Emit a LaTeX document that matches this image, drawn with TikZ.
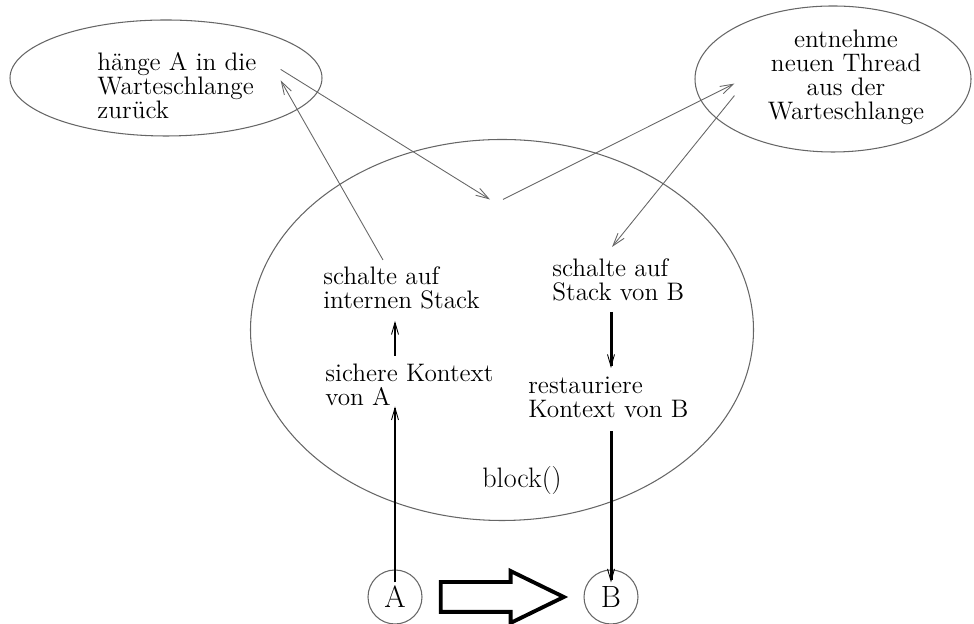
\documentclass[tikz,border=0pt]{standalone}
\usepackage{tikz}
\usetikzlibrary{arrows.meta,calc,shapes.geometric,shapes.arrows}
\definecolor{penGray}{HTML}{666666}

\begin{document}
\begin{tikzpicture}[
  every node/.style={font=\fontsize{14.4}{13.6}\selectfont},
  txt/.style={inner sep=0pt, align=left, anchor=north west},
  queue/.style={draw=penGray, line width=0.6pt, ellipse, inner sep=0pt},
  thread/.style={draw=penGray, line width=0.6pt, circle, minimum size=1.08cm, inner sep=0pt,
                 font=\fontsize{17.5}{18}\selectfont},
  thinarrow/.style={draw=penGray, line width=0.5pt, -{Straight Barb[length=2.6mm,width=1.6mm]}},
  flow/.style={line width=1.7pt, -{Straight Barb[length=2.4mm,width=1.4mm,line width=0.5pt]}}
]
  \useasboundingbox (0,0) rectangle (19.48,12.48);

  % Ellipsen
  \node[queue, minimum width=6.24cm, minimum height=2.32cm] (qleft) at (3.32,10.92) {};
  \node[queue, minimum width=5.52cm, minimum height=2.92cm] (qright) at (16.66,10.90) {};
  \node[queue, minimum width=10.06cm, minimum height=7.62cm] (blk) at (10.04,5.88) {};

  % Texte
  \node[txt] (hang) at (1.94,11.44) {hänge A in die\\Warteschlange\\zurück};
  \node[inner sep=0pt, align=center, anchor=north] (take) at (16.92,11.88) {entnehme\\neuen Thread\\aus der\\Warteschlange};
  \node[txt] (internA) at (6.46,7.16) {schalte auf\\internen Stack};
  \node[txt] (saveA) at (6.50,5.20) {sichere Kontext\\von A};
  \node[txt] (stackB) at (11.04,7.32) {schalte auf\\Stack von B};
  \node[txt] (restB) at (10.56,4.94) {restauriere\\Kontext von B};
  \node[inner sep=0pt, anchor=base, font=\fontsize{16}{18}\selectfont] (blockcall) at (10.44,2.72) {block()};

  % Threads
  \node[thread] (A) at (7.90,0.54) {A};
  \node[thread] (B) at (12.22,0.54) {B};
  \node[single arrow, draw, line width=2.2pt, minimum height=2.46cm, inner xsep=0pt, inner ysep=0.26cm,
        single arrow head extend=0.22cm, single arrow tip angle=52, xshift=-0.32cm]
        (swap) at ($(A)!0.5!(B)$) {};

  \coordinate (swapmid) at (9.93,8.49);

  \draw[flow] ($(A.north)+(0,-0.26)$) -- (A |- saveA.south);
  \draw[flow] ($(A |- saveA.north)+(0,0.16)$) -- ($(A |- internA.south)+(0,-0.24)$);
  \draw[thinarrow] ($(internA.north west)+(1.2,0.12)$) -- ($(hang.east)+(0.48,0.10)$);
  \draw[thinarrow] ($(hang.east)+(0.48,0.32)$) -- ($(swapmid)+(-0.13,0)$);
  \draw[thinarrow] ($(swapmid)+(0.13,0)$) -- ($(take.west)+(-0.66,-0.12)$);
  \draw[thinarrow] ($(take.west)+(-0.66,-0.36)$) -- ($(stackB.north west)+(1.2,0.22)$);
  \draw[flow] ($(B |- stackB.south)+(0,-0.22)$) -- ($(B |- restB.north)+(0,0.18)$);
  \draw[flow] ($(B |- restB.south)+(0,-0.26)$) -- ($(B.north)+(0,-0.26)$);
\end{tikzpicture}
\end{document}
